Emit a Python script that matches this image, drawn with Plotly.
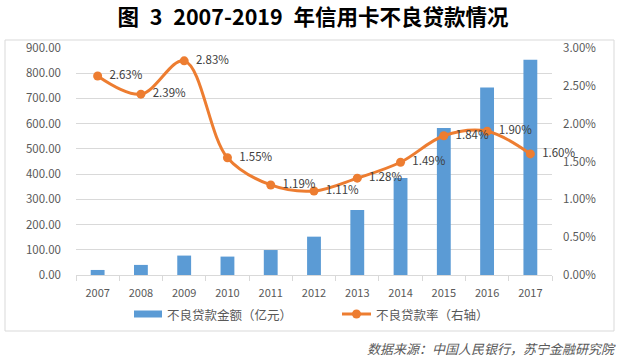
import plotly.graph_objects as go

years = ["2007", "2008", "2009", "2010", "2011", "2012", "2013", "2014", "2015", "2016", "2017"]
npl_amount = [20, 40, 77, 73, 99, 152, 258, 385, 583, 743, 853]
npl_rate = [2.63, 2.39, 2.83, 1.55, 1.19, 1.11, 1.28, 1.49, 1.84, 1.90, 1.60]
rate_labels = [f"{v:.2f}%" for v in npl_rate]
series_names = ["不良贷款金额（亿元）", "不良贷款率（右轴）"]
title_text = "图\u20023\u20022007-2019\u2002年信用卡不良贷款情况"
source_text = "数据来源：中国人民银行，苏宁金融研究院"

BLUE, ORANGE = "#5B9BD5", "#ED7D31"
W, H = 622, 359
L, R, T, B = 76, 70, 48, 84
pw, ph = W - L - R, H - T - B

def px_x(x):
    return (x - L) / pw

def px_y(y):
    return (H - B - y) / ph

FONT = "Noto Sans CJK SC, Noto Sans, sans-serif"

fig = go.Figure()
fig.add_trace(go.Bar(
    x=years, y=npl_amount, name=series_names[0],
    marker=dict(color=BLUE, line=dict(width=0)), width=0.32, yaxis="y", showlegend=False,
))
fig.add_trace(go.Scatter(
    x=years, y=[v / 100 for v in npl_rate], name=series_names[1],
    mode="lines+markers+text", text=["  " + t for t in rate_labels], textposition="middle right",
    textfont=dict(size=11.5, color="#404040", family=FONT),
    line=dict(color=ORANGE, width=3, shape="spline", smoothing=1.0),
    marker=dict(color=ORANGE, size=9), yaxis="y2", cliponaxis=False, showlegend=False,
))

fig.update_layout(
    width=W, height=H,
    margin=dict(l=L, r=R, t=T, b=B, autoexpand=False),
    paper_bgcolor="white", plot_bgcolor="white",
    font=dict(family=FONT, color="#595959", size=11),
    showlegend=False,
    xaxis=dict(type="category", range=[-0.5, 10.5], showgrid=False, showline=True, linecolor="#D9D9D9",
               linewidth=1, ticks="outside", tickson="boundaries", ticklen=5, tickcolor="#D9D9D9",
               tickfont=dict(size=11, color="#595959"), ticklabelstandoff=8, automargin=False),
    yaxis=dict(range=[0, 900], dtick=100, tickformat=".2f", showgrid=True, gridcolor="#D9D9D9",
               gridwidth=1, zeroline=False, showline=False, ticks="",
               tickfont=dict(size=11.5, color="#595959"), ticklabelstandoff=14, automargin=False),
    yaxis2=dict(range=[0, 0.03], dtick=0.005, tickformat=".2%", overlaying="y", side="right",
                showgrid=False, zeroline=False, showline=False, ticks="",
                tickfont=dict(size=11.5, color="#595959"), ticklabelstandoff=10, automargin=False),
    title=dict(text=f"<b>{title_text}</b>", x=px_x(313), xref="paper", xanchor="center",
               y=1 - 17 / H, yref="container", yanchor="middle",
               font=dict(size=21.5, color="#000000", family=FONT)),
)

# chart border
fig.add_shape(type="rect", xref="paper", yref="paper",
              x0=px_x(5), x1=px_x(614), y0=px_y(331), y1=px_y(40),
              line=dict(color="#D9D9D9", width=1), fillcolor="rgba(0,0,0,0)", layer="below")

# custom legend
ly = 314
fig.add_shape(type="rect", xref="paper", yref="paper",
              x0=px_x(134), x1=px_x(162), y0=px_y(ly + 3.5), y1=px_y(ly - 3.5),
              line=dict(width=0), fillcolor=BLUE)
fig.add_annotation(text=series_names[0], xref="paper", yref="paper", x=px_x(165), y=px_y(ly),
                   xanchor="left", yanchor="middle", showarrow=False,
                   font=dict(size=12.5, color="#595959", family=FONT))
fig.add_shape(type="line", xref="paper", yref="paper",
              x0=px_x(342), x1=px_x(371), y0=px_y(ly), y1=px_y(ly),
              line=dict(color=ORANGE, width=3))
fig.add_shape(type="circle", xref="paper", yref="paper",
              x0=px_x(352), x1=px_x(361), y0=px_y(ly + 4.5), y1=px_y(ly - 4.5),
              line=dict(width=0), fillcolor=ORANGE)
fig.add_annotation(text=series_names[1], xref="paper", yref="paper", x=px_x(374), y=px_y(ly),
                   xanchor="left", yanchor="middle", showarrow=False,
                   font=dict(size=12.5, color="#595959", family=FONT))

fig.add_annotation(text=f"<i>{source_text}</i>", xref="paper", yref="paper",
                   x=px_x(618), y=px_y(348), xanchor="right", yanchor="middle", showarrow=False,
                   font=dict(size=13, color="#595959", family=FONT))

fig.write_html("out.html", config={"displayModeBar": False},
               post_script="document.body.style.margin='0';document.body.style.padding='0';")
